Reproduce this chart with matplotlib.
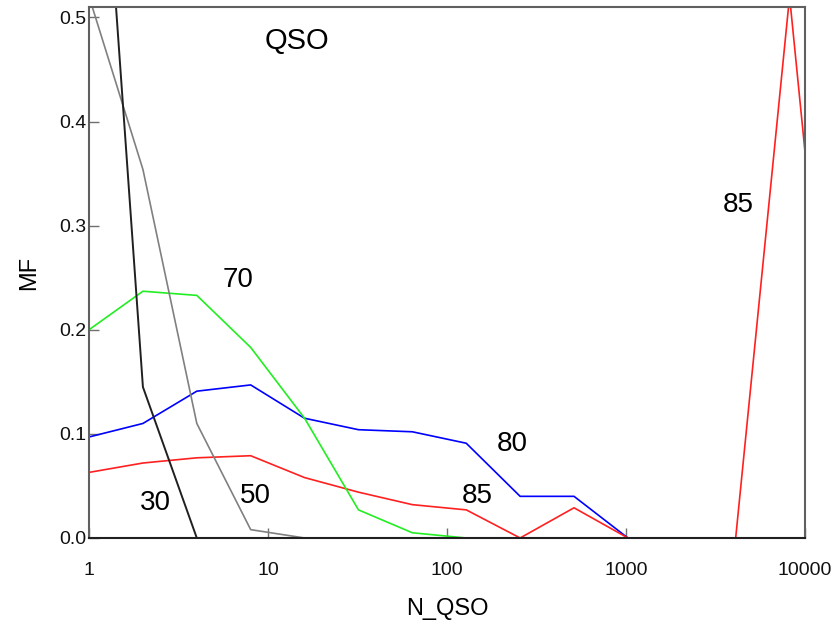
import matplotlib
matplotlib.use("Agg")
import matplotlib.pyplot as plt

plt.rcParams['font.family'] = ['Liberation Sans', 'DejaVu Sans']

n_qso = [1, 2, 4, 8, 16, 32, 64, 128, 256, 512, 1024, 2048, 4096, 8192, 16384]

x_30 = [1, 2, 4, 8]
mf_30 = [0.876, 0.145, 0.0, 0.0]

x_50 = [1, 2, 4, 8, 16]
mf_50 = [0.52, 0.354, 0.11, 0.008, 0.0]

x_70 = [1, 2, 4, 8, 16, 32, 64, 128]
mf_70 = [0.200, 0.237, 0.233, 0.183, 0.115, 0.027, 0.005, 0.0]

mf_80 = [0.097, 0.110, 0.141, 0.147, 0.115, 0.104, 0.102, 0.091, 0.040, 0.040,
         0.0, 0.0, 0.0, 0.0, 0.0]
mf_85 = [0.063, 0.072, 0.077, 0.079, 0.058, 0.044, 0.032, 0.027, 0.0, 0.029,
         0.0, 0.0, 0.0, 0.52, 0.0]

x_ticks = [1, 10, 100, 1000, 10000]
x_ticklabels = ['1', '10', '100', '1000', '10000']
y_ticks = [0.0, 0.1, 0.2, 0.3, 0.4, 0.5]
y_ticklabels = ['0.0', '0.1', '0.2', '0.3', '0.4', '0.5']

fig = plt.figure(figsize=(8.36, 6.29), dpi=100)
ax = fig.add_axes([0.1065, 0.1447, 0.8565, 0.8442])

ax.plot(n_qso, mf_80, color='#0000ff', lw=1.2)
ax.plot(n_qso, mf_85, color='#ff2020', lw=1.2)
ax.plot(x_70, mf_70, color='#22ee22', lw=1.2)
ax.plot(x_50, mf_50, color='#808080', lw=1.2)
ax.plot(x_30, mf_30, color='#202020', lw=1.4)

ax.set_xscale('log')
ax.set_xlim(1, 10000)
ax.set_ylim(0, 0.51)
ax.set_xticks(x_ticks)
ax.set_xticklabels(x_ticklabels)
ax.set_yticks(y_ticks)
ax.set_yticklabels(y_ticklabels)
ax.minorticks_off()
ax.tick_params(axis='both', direction='in', length=7, width=1, colors='#707070',
               labelcolor='#111111', labelsize=14)
ax.tick_params(axis='x', pad=17)
ax.tick_params(axis='y', pad=2)

for s in ax.spines.values():
    s.set_color('#606060')
    s.set_linewidth(1.5)
ax.spines['bottom'].set_color('#202020')

ax.set_xlabel('N_QSO', fontsize=17, va='center')
ax.set_ylabel('MF', fontsize=17, va='center')
ax.xaxis.set_label_coords(0.5, -0.134)
ax.yaxis.set_label_coords(-0.083, 0.5)

ax.text(9.6, 0.477, 'QSO', fontsize=21, ha='left', va='center')
ax.text(6.8, 0.248, '70', fontsize=20, ha='center', va='center')
ax.text(2.34, 0.034, '30', fontsize=20, ha='center', va='center')
ax.text(8.46, 0.040, '50', fontsize=20, ha='center', va='center')
ax.text(231, 0.090, '80', fontsize=20, ha='center', va='center')
ax.text(148, 0.040, '85', fontsize=20, ha='center', va='center')
ax.text(4226, 0.320, '85', fontsize=20, ha='center', va='center')

fig.savefig('out.png', dpi=100)
